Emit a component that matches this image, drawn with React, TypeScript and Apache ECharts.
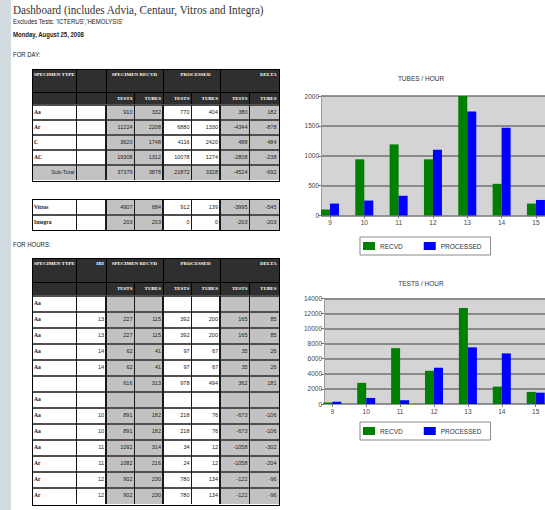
import React, { useEffect, useRef } from "react";
import * as echarts from "echarts";

// ---------- chart data ----------
const hours = ["9", "10", "11", "12", "13", "14", "15"];
const tubesRecvd = [100, 940, 1190, 940, 2000, 530, 200];
const tubesProcessed = [200, 250, 330, 1100, 1740, 1470, 260];
const testsRecvd = [200, 2800, 7400, 4400, 12700, 2300, 1600];
const testsProcessed = [300, 800, 500, 4800, 7500, 6700, 1500];

// ---------- table data ----------
const dayLabels = ["Aa", "Ar", "C", "AC", "Sub-Total"];
const dayRecvdTests = ["910", "11224", "3620", "19308", "37379"];
const dayRecvdTubes = ["332", "2208", "1748", "1312", "3878"];
const dayProcTests = ["770", "6880", "4116", "10078", "21872"];
const dayProcTubes = ["404", "1330", "2420", "1274", "3328"];
const dayDeltaTests = ["380", "-4344", "488", "-2808", "-4524"];
const dayDeltaTubes = ["182", "-878", "484", "-238", "-692"];

const instLabels = ["Vitros", "Integra"];
const instRecvdTests = ["4907", "203"];
const instRecvdTubes = ["684", "203"];
const instProcTests = ["912", "0"];
const instProcTubes = ["139", "0"];
const instDeltaTests = ["-3995", "-203"];
const instDeltaTubes = ["-545", "-203"];

const hrLabels = ["Aa", "Aa", "Aa", "Aa", "Aa", "", "Aa", "Aa", "Aa", "Aa", "Ar", "Ar", "Ar"];
const hrHH = ["", "13", "13", "14", "14", "", "", "10", "10", "11", "11", "12", "12"];
const hrRecvdTests = ["", "227", "227", "62", "62", "616", "", "891", "891", "1092", "1082", "902", "902"];
const hrRecvdTubes = ["", "115", "115", "41", "41", "313", "", "182", "182", "314", "216", "230", "230"];
const hrProcTests = ["", "392", "392", "97", "97", "978", "", "218", "218", "34", "24", "780", "780"];
const hrProcTubes = ["", "200", "200", "67", "67", "494", "", "76", "76", "12", "12", "134", "134"];
const hrDeltaTests = ["", "165", "165", "35", "35", "362", "", "-673", "-673", "-1058", "-1058", "-122", "-122"];
const hrDeltaTubes = ["", "85", "85", "26", "26", "181", "", "-106", "-106", "-302", "-204", "-96", "-96"];

// ---------- layout ----------
const COLS = [32, 76.5, 106, 134.5, 163, 191.5, 220, 249.5, 278.5];
const GRAY = "#c2c2c2";
const HEAD = "#2f2f2f";
const SERIF = '"Liberation Serif", "Times New Roman", serif';
const SANS = '"Liberation Sans", Arial, sans-serif';

type TableProps = {
  top: number;
  h1: number;
  h2: number;
  rowH: number;
  hhHeader?: string;
  labels: string[];
  hh?: string[];
  cols: string[][];
  subtotalRow?: number;
};

function box(key: string, x: number, y: number, w: number, h: number, bg: string) {
  return (
    <div key={key} style={{ position: "absolute", left: x, top: y, width: w, height: h, background: bg }} />
  );
}

function txt(
  key: string,
  x: number,
  y: number,
  w: number,
  h: number,
  text: string,
  align: "left" | "right" | "center",
  font: string,
  size: number,
  weight: number | string,
  color: string,
  padTop: number
) {
  return (
    <div
      key={key}
      style={{
        position: "absolute",
        left: x,
        top: y,
        width: w,
        height: h,
        display: "flex",
        justifyContent: align === "left" ? "flex-start" : align === "right" ? "flex-end" : "center",
        alignItems: "flex-start",
        paddingTop: padTop,
        paddingLeft: 2,
        paddingRight: 2,
        boxSizing: "border-box",
        fontFamily: font,
        fontSize: size,
        fontWeight: weight as any,
        color,
        lineHeight: `${size + 1}px`,
        whiteSpace: "nowrap",
      }}
    >
      {text}
    </div>
  );
}

function Table(p: TableProps) {
  const els: React.ReactNode[] = [];
  const L = COLS[0];
  const R = COLS[8];
  const headH = p.h1 + p.h2;
  const dataTop = p.top + headH;
  const n = p.labels.length;
  const bottom = dataTop + n * p.rowH;
  const fills = ["#fff", "#fff", GRAY, GRAY, "#fff", "#fff", GRAY, GRAY];

  if (headH > 0) {
    els.push(box("hd", L, p.top, R - L, headH, HEAD));
    const hs = 5;
    els.push(txt("h1a", COLS[0], p.top, COLS[1] - COLS[0] + 10, p.h1, "SPECIMEN TYPE", "left", SERIF, hs, 700, "#fff", 3));
    if (p.hhHeader)
      els.push(txt("h1b", COLS[1], p.top, COLS[2] - COLS[1], p.h1, p.hhHeader, "right", SERIF, hs, 700, "#fff", 3));
    els.push(txt("h1c", COLS[2], p.top, COLS[4] - COLS[2], p.h1, "SPECIMEN RECVD", "center", SERIF, hs, 700, "#fff", 3));
    els.push(txt("h1d", COLS[4] + 8, p.top, COLS[6] - COLS[4] - 8, p.h1, "PROCESSED", "center", SERIF, hs, 700, "#fff", 3));
    els.push(txt("h1e", COLS[6], p.top, COLS[8] - COLS[6], p.h1, "DELTA", "right", SERIF, hs, 700, "#fff", 3));
    for (let c = 2; c < 8; c++) {
      els.push(
        txt("h2" + c, COLS[c], p.top + p.h1, COLS[c + 1] - COLS[c], p.h2, c % 2 === 0 ? "TESTS" : "TUBES", "right", SERIF, hs, 700, "#fff", (p.h2 - 6) / 2)
      );
    }
    els.push(box("hl", L, p.top + p.h1 - 0.5, R - L, 1, "#000"));
    [1, 2, 4, 6].forEach((c) => els.push(box("hv1" + c, COLS[c] - 0.5, p.top, 1, p.h1, "#000")));
    for (let c = 1; c < 8; c++) els.push(box("hv2" + c, COLS[c] - 0.5, p.top + p.h1, 1, p.h2, "#000"));
  }

  for (let r = 0; r < n; r++) {
    const y = dataTop + r * p.rowH;
    const sub = p.subtotalRow === r;
    for (let c = 0; c < 8; c++) {
      els.push(box(`f${r}_${c}`, COLS[c], y, COLS[c + 1] - COLS[c], p.rowH, sub ? GRAY : fills[c]));
    }
    if (sub) {
      els.push(txt(`l${r}`, COLS[0], y, COLS[1] - COLS[0], p.rowH, p.labels[r], "right", SANS, 5.5, 400, "#222", 4));
    } else {
      els.push(txt(`l${r}`, COLS[0], y, COLS[1] - COLS[0], p.rowH, p.labels[r], "left", SERIF, 5.5, 700, "#111", 4));
    }
    if (p.hh) els.push(txt(`hh${r}`, COLS[1], y, COLS[2] - COLS[1], p.rowH, p.hh[r], "right", SANS, 5.5, 400, "#222", 4));
    for (let c = 0; c < 6; c++) {
      els.push(
        txt(`v${r}_${c}`, COLS[c + 2], y, COLS[c + 3] - COLS[c + 2], p.rowH, p.cols[c][r], "right", SANS, 5.5, 400, "#222", 4)
      );
    }
    if (r > 0 || headH > 0) els.push(box(`rl${r}`, L, y - 1, R - L, 2, "#505050"));
  }
  for (let c = 1; c < 8; c++) els.push(box("dv" + c, COLS[c] - 0.6, dataTop, 1.2, bottom - dataTop, "#1a1a1a"));

  els.push(
    <div
      key="border"
      style={{
        position: "absolute",
        left: L - 0.5,
        top: p.top - 0.5,
        width: R - L,
        height: bottom - p.top,
        border: "1px solid #000",
        boxSizing: "content-box",
      }}
    />
  );
  return <>{els}</>;
}

function Charts() {
  const ref = useRef<HTMLDivElement>(null);
  useEffect(() => {
    if (!ref.current) return;
    const chart = echarts.init(ref.current, undefined, { renderer: "svg" });
    const X0 = 290;
    const font = '"Liberation Sans", Arial, sans-serif';
    const bgGrid = (left: number, top: number, height: number) => ({
      left: left - X0,
      top,
      width: 250,
      height,
      show: true,
      backgroundColor: "#d4d4d4",
      borderWidth: 0,
    });
    const yMain = (gi: number, max: number, interval: number) => ({
      gridIndex: gi,
      type: "value",
      min: 0,
      max,
      interval,
      axisLine: { show: true, lineStyle: { color: "#9a9a9a", width: 1 } },
      axisTick: { show: true, length: 3, lineStyle: { color: "#777" } },
      axisLabel: {
        fontSize: 6.5,
        color: "#444",
        margin: 2,
        fontFamily: font,
        formatter: (v: number) => String(v),
      },
      splitLine: { show: true, lineStyle: { color: "#727272", width: 1.5 } },
    });
    const yHidden = (gi: number, max: number) => ({ gridIndex: gi, type: "value", min: 0, max, show: false });
    const xHidden = (gi: number) => ({
      gridIndex: gi,
      type: "category",
      data: hours,
      axisLine: { show: false },
      axisTick: { show: false },
      axisLabel: { show: false },
    });
    const xMain = (gi: number) => ({
      gridIndex: gi,
      type: "category",
      data: hours,
      axisLine: { show: false },
      axisTick: { show: true, alignWithLabel: true, length: 3, lineStyle: { color: "#777" } },
      axisLabel: { fontSize: 6.5, color: "#444", margin: 3.5, fontFamily: font },
    });
    const bar = (name: string, xi: number, data: number[], color: string) => ({
      type: "bar",
      name,
      xAxisIndex: xi,
      yAxisIndex: xi,
      data,
      barWidth: 9,
      barGap: "0%",
      itemStyle: { color },
    });
    const legend = (top: number) => ({
      left: 360 - X0,
      top,
      data: ["RECVD", "PROCESSED"],
      icon: "rect",
      itemWidth: 12,
      itemHeight: 8,
      itemGap: 21,
      padding: [5, 9, 5, 3],
      borderColor: "#8a8a8a",
      borderWidth: 1,
      backgroundColor: "#fff",
      selectedMode: false,
      textStyle: { fontSize: 6.5, color: "#333", fontFamily: font },
    });

    chart.setOption({
      animation: false,
      title: [
        {
          text: "TUBES / HOUR",
          left: 421 - X0,
          top: 74.5,
          textAlign: "center",
          padding: 0,
          textStyle: { fontSize: 6.5, fontWeight: "normal", color: "#333", fontFamily: font },
        },
        {
          text: "TESTS / HOUR",
          left: 421 - X0,
          top: 279.5,
          textAlign: "center",
          padding: 0,
          textStyle: { fontSize: 6.5, fontWeight: "normal", color: "#333", fontFamily: font },
        },
      ],
      legend: [legend(237), legend(422)],
      grid: [
        bgGrid(321, 96, 119.5),
        { left: 312.8 - X0, top: 96, width: 240.3, height: 119.5 },
        bgGrid(324, 298.3, 105.7),
        { left: 315.35 - X0, top: 298.3, width: 237.3, height: 105.7 },
      ],
      xAxis: [xHidden(0), xMain(1), xHidden(2), xMain(3)],
      yAxis: [yMain(0, 2000, 500), yHidden(1, 2000), yMain(2, 14000, 2000), yHidden(3, 14000)],
      series: [
        bar("RECVD", 1, tubesRecvd, "#008000"),
        bar("PROCESSED", 1, tubesProcessed, "#0000ff"),
        bar("RECVD", 3, testsRecvd, "#008000"),
        bar("PROCESSED", 3, testsProcessed, "#0000ff"),
      ],
    } as any);
    return () => chart.dispose();
  }, []);
  return <div ref={ref} style={{ position: "absolute", left: 290, top: 0, width: 300, height: 510 }} />;
}

export default function App() {
  const small: React.CSSProperties = {
    position: "absolute",
    left: 13,
    fontFamily: SANS,
    fontSize: 7,
    lineHeight: "8px",
    color: "#222",
    whiteSpace: "nowrap",
    transform: "scaleX(0.855)",
    transformOrigin: "left top",
  };
  return (
    <div style={{ position: "fixed", left: 0, top: 0, width: 545, height: 510, overflow: "hidden", background: "#fff" }}>
      <div style={{ position: "absolute", left: 0, top: 0, width: 11, height: 510, background: "#d1dbe0" }} />
      <div
        style={{
          position: "absolute",
          left: 13,
          top: 2,
          fontFamily: SERIF,
          fontSize: 13,
          lineHeight: "15px",
          color: "#333",
          whiteSpace: "nowrap",
          transform: "scaleX(0.855)",
          transformOrigin: "left top",
        }}
      >
        Dashboard (includes Advia, Centaur, Vitros and Integra)
      </div>
      <div style={{ ...small, top: 18 }}>Excludes Tests: 'ICTERUS','HEMOLYSIS'</div>
      <div style={{ ...small, top: 31, fontWeight: 700 }}>Monday, August 25, 2008</div>
      <div style={{ ...small, top: 51 }}>FOR DAY:</div>
      <div style={{ ...small, top: 241 }}>FOR HOURS:</div>

      <Table
        top={69}
        h1={23}
        h2={13}
        rowH={15}
        labels={dayLabels}
        cols={[dayRecvdTests, dayRecvdTubes, dayProcTests, dayProcTubes, dayDeltaTests, dayDeltaTubes]}
        subtotalRow={4}
      />
      <Table
        top={199.5}
        h1={0}
        h2={0}
        rowH={15}
        labels={instLabels}
        cols={[instRecvdTests, instRecvdTubes, instProcTests, instProcTubes, instDeltaTests, instDeltaTubes]}
      />
      <Table
        top={258}
        h1={24}
        h2={14}
        rowH={16}
        hhHeader="HH"
        labels={hrLabels}
        hh={hrHH}
        cols={[hrRecvdTests, hrRecvdTubes, hrProcTests, hrProcTubes, hrDeltaTests, hrDeltaTubes]}
      />
      <Charts />
    </div>
  );
}
